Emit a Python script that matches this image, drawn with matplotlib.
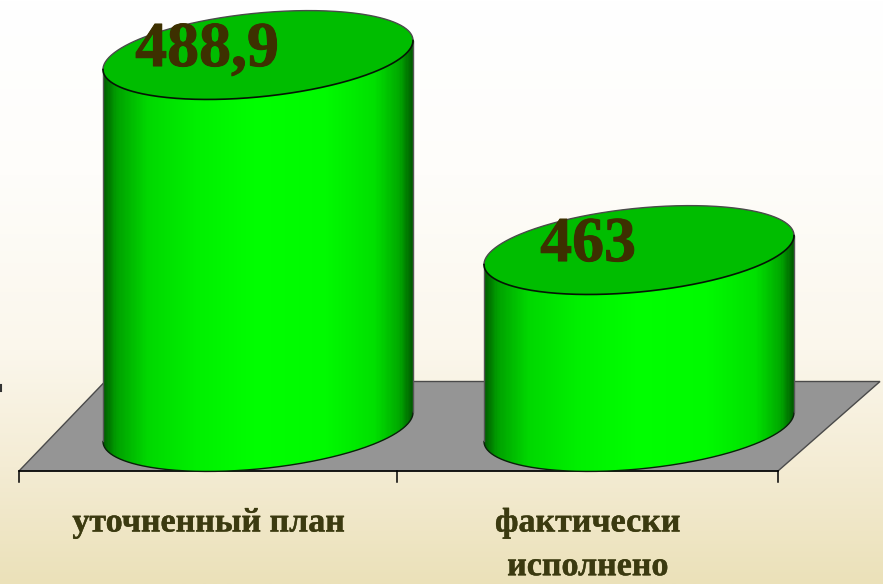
# -*- coding: utf-8 -*-
import numpy as np
import matplotlib
matplotlib.use("Agg")
import matplotlib.pyplot as plt
import matplotlib.patheffects as pe
from matplotlib.colors import LinearSegmentedColormap
from matplotlib.patches import Polygon

# data
categories = ["уточненный план", "фактически\nисполнено"]
values = [488.9, 463]
value_labels = ["488,9", "463"]

# scale: axis is cut, the bars start near 439.5
base_value = 439.5
px_per_unit = 7.53
base_px = 427
fig_w, fig_h = 883, 584

# layout, pixels
centers = [258, 639]
half_w = 155
tilt = 14.5
depth = 42
tick_x = [19, 397, 778]
label_x = [208.5, 587.5]
floor_x = [19, 105, 880, 778]

plt.rcParams["font.family"] = ["Liberation Serif", "DejaVu Serif"]
plt.rcParams["font.weight"] = "bold"

bg_cmap = LinearSegmentedColormap.from_list(
    "bg", [(0, "#ffffff"), (0.3, "#fefdfa"), (0.6, "#fbf7ec"),
           (0.8, "#f4ecd4"), (1, "#ebe1b9")])
side_cmap = LinearSegmentedColormap.from_list(
    "side", [(0, "#006000"), (0.04, "#00a000"), (0.14, "#00d800"),
             (0.3, "#00f000"), (0.5, "#00ff00"), (0.72, "#00fa00"),
             (0.88, "#00e000"), (0.96, "#00a800"), (1, "#005f00")])


def dy(px):
    return px / px_per_unit


ymin = base_value - dy(fig_h - base_px)
ymax = base_value + dy(base_px)
y_floor_front = base_value - dy(44)
y_floor_back = base_value + dy(45.5)
y_axis = y_floor_front
y_tick = y_axis - dy(11)

fig = plt.figure(figsize=(fig_w / 100, fig_h / 100), dpi=100)
ax = fig.add_axes([0, 0, 1, 1])
ax.axis("off")

# background
grad = np.linspace(0, 1, 256).reshape(-1, 1)
ax.imshow(grad, cmap=bg_cmap, extent=(0, fig_w, ymin, ymax), aspect="auto",
          origin="upper", zorder=0)

# floor
floor = Polygon([(floor_x[0], y_floor_front), (floor_x[1], y_floor_back),
                 (floor_x[2], y_floor_back), (floor_x[3], y_floor_front)],
                facecolor="#959595", edgecolor="#4a4a4a", lw=1, zorder=1)
ax.add_patch(floor)

# axis and ticks
ax.plot([tick_x[0], tick_x[-1]], [y_axis, y_axis], color="black", lw=1.1, zorder=2)
for x in tick_x:
    ax.plot([x, x], [y_axis, y_tick], color="black", lw=1.1, zorder=2)
ax.plot([0.5, 0.5], [base_value + dy(42), base_value + dy(36)], color="#333333", lw=1.5, zorder=2)

t = np.linspace(0, 2 * np.pi, 361)
low = t <= np.pi
for cx, v, lab in zip(centers, values, value_labels):
    x_e = cx + half_w * np.cos(t)
    lower_x = x_e[low]
    lower_bot = base_value + dy(tilt) * np.cos(t[low]) - dy(depth) * np.sin(t[low])
    lower_top = v + dy(tilt) * np.cos(t[low]) - dy(depth) * np.sin(t[low])

    # side of the cylinder
    outline = np.column_stack([np.r_[lower_x, lower_x[::-1]],
                               np.r_[lower_bot, lower_top[::-1]]])
    side = Polygon(outline, facecolor="none", edgecolor="none", zorder=3)
    ax.add_patch(side)
    im = ax.imshow(np.linspace(0, 1, 310).reshape(1, -1), cmap=side_cmap,
                   extent=(cx - half_w, cx + half_w, base_value - dy(60), v + dy(20)),
                   aspect="auto", zorder=3)
    im.set_clip_path(side)
    ax.plot(lower_x, lower_bot, color="#0a200a", lw=1, zorder=4)
    ax.plot([cx - half_w] * 2, [lower_bot[-1], lower_top[-1]], color="#555555", lw=1, zorder=4)
    ax.plot([cx + half_w] * 2, [lower_bot[0], lower_top[0]], color="#555555", lw=1, zorder=4)

    # top of the cylinder
    cap_y = v + dy(tilt) * np.cos(t) + dy(depth) * np.sin(t)
    ax.fill(x_e, cap_y, color="#00bd00", lw=0, zorder=5)
    ax.plot(x_e[low], v + dy(tilt) * np.cos(t[low]) + dy(depth) * np.sin(t[low]),
            color="#4a4a4a", lw=1, zorder=6)
    ax.plot(lower_x, lower_top, color="#051505", lw=1.2, zorder=6)

    # value label
    ax.annotate(lab, xy=(cx, v), xytext=(-51 * 0.72, 4 * 0.72),
                textcoords="offset points", ha="center", va="center",
                fontsize=46, color="#3d3000", zorder=7,
                path_effects=[pe.withStroke(linewidth=0.7, foreground="#3d3000")])

# category labels
for x, cat in zip(label_x, categories):
    ax.text(x, y_axis - dy(36.5), cat, ha="center", va="top",
            fontsize=24.5, color="#3b3a10", linespacing=1.53, zorder=7,
            path_effects=[pe.withStroke(linewidth=0.3, foreground="#3b3a10")])

ax.set_xlim(0, fig_w)
ax.set_ylim(ymin, ymax)
fig.savefig("out.png", dpi=100)
